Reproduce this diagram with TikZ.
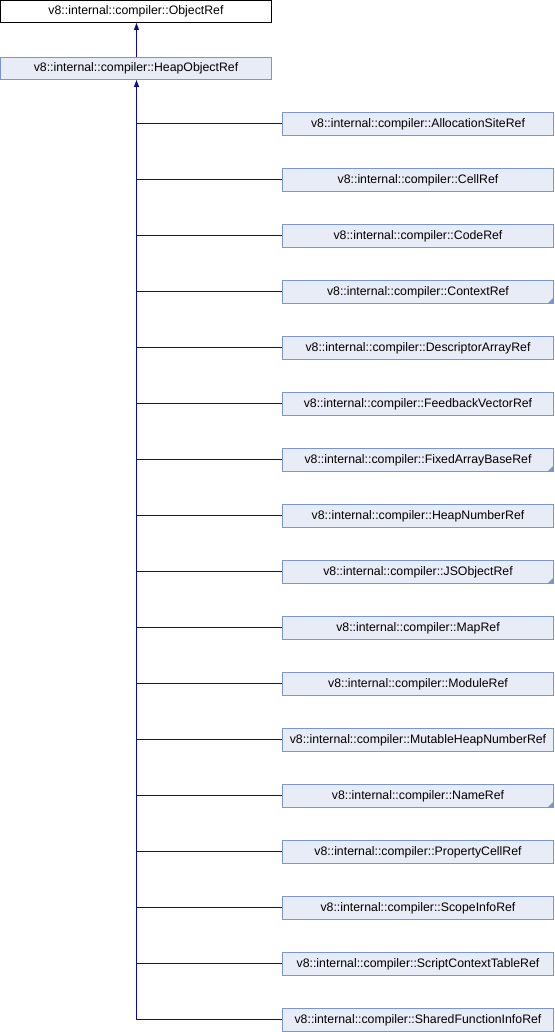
\documentclass[tikz,border=0pt]{standalone}
\usepackage{fontspec}
\setmainfont{Liberation Sans}
\usetikzlibrary{arrows.meta}
\definecolor{edgeblue}{HTML}{0C0C8C}
\definecolor{boxfill}{HTML}{E8ECF6}
\definecolor{boxline}{HTML}{7B96CC}
\tikzset{
  base/.style={rectangle, minimum width=271pt, minimum height=22pt, inner sep=0pt,
    font=\fontsize{12.3pt}{14pt}\selectfont, line width=1pt},
  rootbox/.style={base, draw=black, fill=white},
  classbox/.style={base, draw=boxline, fill=boxfill},
  childbox/.style={classbox, minimum height=23pt},
  morebox/.style={childbox, path picture={
      \fill[boxline] (path picture bounding box.south east) -- ++(-6pt,0) -- ++(6pt,6pt) -- cycle;}},
  link/.style={draw=edgeblue, line width=1pt},
  inherit/.style={link, -{Triangle[length=7pt,width=5pt]}},
}
\begin{document}
\begin{tikzpicture}[x=1pt,y=-1pt]
\useasboundingbox (0,0) rectangle (554,1032);
\node[rootbox] (obj) at (136,11.5) {v8::internal::compiler::ObjectRef};
\node[classbox] (heap) at (136,68.5) {v8::internal::compiler::HeapObjectRef};
\draw[inherit] ([xshift=0.5pt]heap.north) -- ([xshift=0.5pt]obj.south);
\foreach \i/\name/\sty in {
  1/AllocationSiteRef/childbox,
  2/CellRef/childbox,
  3/CodeRef/childbox,
  4/ContextRef/morebox,
  5/DescriptorArrayRef/childbox,
  6/FeedbackVectorRef/childbox,
  7/FixedArrayBaseRef/morebox,
  8/HeapNumberRef/childbox,
  9/JSObjectRef/morebox,
  10/MapRef/childbox,
  11/ModuleRef/childbox,
  12/MutableHeapNumberRef/childbox,
  13/NameRef/morebox,
  14/PropertyCellRef/childbox,
  15/ScopeInfoRef/childbox,
  16/ScriptContextTableRef/childbox,
  17/SharedFunctionInfoRef/childbox}{
  \node[\sty] (c\i) at (418,{124+56*(\i-1)}) {v8::internal::compiler::\name};
}
\foreach \i in {1,...,16}{
  \draw[link] ([yshift=0.5pt]c\i.west) -- ([xshift=0.5pt,yshift=0.5pt]heap.south |- c\i.west);
}
\draw[inherit] ([yshift=0.5pt]c17.west) -| ([xshift=0.5pt]heap.south);
\end{tikzpicture}
\end{document}
